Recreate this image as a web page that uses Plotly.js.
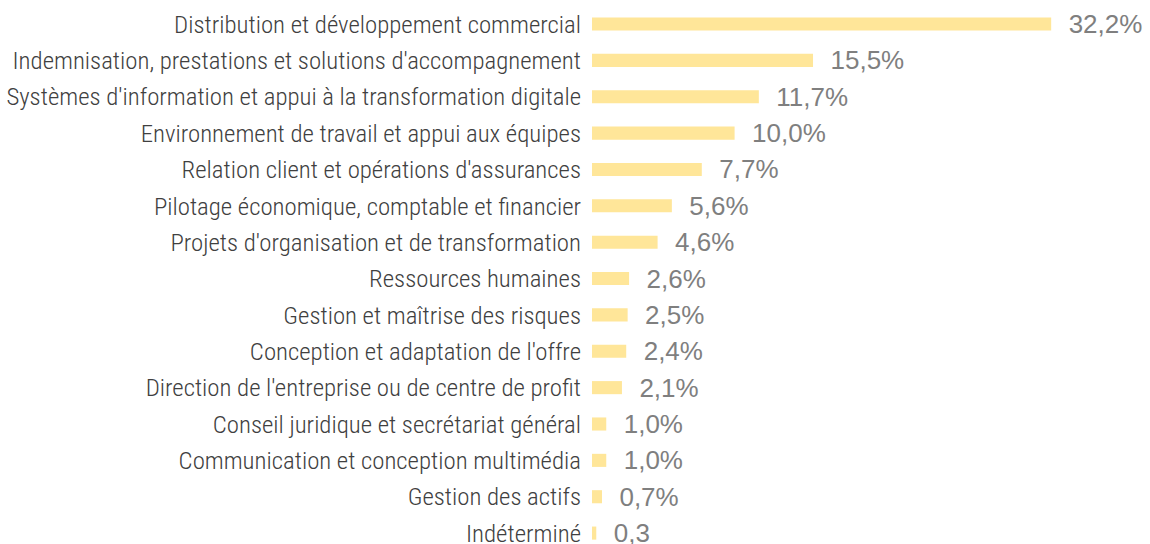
<!DOCTYPE html>
<html><head><meta charset="utf-8">
<script src="https://cdn.plot.ly/plotly-3.0.1.min.js"></script>
<style>html,body{margin:0;padding:0;background:#fff}</style>
</head><body><div id="chart" style="width:1150px;height:544px"></div>
<script>
const categories = [
  "Distribution et développement commercial",
  "Indemnisation, prestations et solutions d'accompagnement",
  "Systèmes d'information et appui à la transformation digitale",
  "Environnement de travail et appui aux équipes",
  "Relation client et opérations d'assurances",
  "Pilotage économique, comptable et financier",
  "Projets d'organisation et de transformation",
  "Ressources humaines",
  "Gestion et maîtrise des risques",
  "Conception et adaptation de l'offre",
  "Direction de l'entreprise ou de centre de profit",
  "Conseil juridique et secrétariat général",
  "Communication et conception multimédia",
  "Gestion des actifs",
  "Indéterminé"
];
const values = [32.2, 15.5, 11.7, 10.0, 7.7, 5.6, 4.6, 2.6, 2.5, 2.4, 2.1, 1.0, 1.0, 0.7, 0.3];
const valueLabels = ["32,2%", "15,5%", "11,7%", "10,0%", "7,7%", "5,6%", "4,6%", "2,6%", "2,5%", "2,4%", "2,1%", "1,0%", "1,0%", "0,7%", "0,3"];

const LABEL_FONT = "'Roboto Condensed', 'Liberation Sans Narrow', sans-serif";
const VALUE_FONT = "'Liberation Sans', Arial, sans-serif";

Plotly.newPlot('chart', [{
  type: 'bar',
  orientation: 'h',
  y: categories,
  x: values,
  text: valueLabels.map(t => '\u00a0\u00a0' + t),
  textposition: 'outside',
  constraintext: 'none',
  cliponaxis: false,
  textfont: {family: VALUE_FONT, size: 26, color: '#7f7f7f'},
  marker: {color: '#FFE699'},
  width: 0.36,
  hoverinfo: 'none'
}], {
  width: 1150, height: 544,
  margin: {l: 592, r: 0, t: 0, b: 0, pad: 0},
  paper_bgcolor: '#ffffff', plot_bgcolor: '#ffffff',
  showlegend: false,
  xaxis: {range: [0, 39.13], visible: false, showgrid: false, zeroline: false},
  yaxis: {
    type: 'category',
    range: [14.3, -0.66],
    showgrid: false, zeroline: false, showline: false,
    ticks: '', ticklen: 0,
    ticklabelstandoff: 10,
    tickfont: {family: LABEL_FONT, size: 24.8, weight: 300, color: '#404040'},
    automargin: false
  },
  font: {family: VALUE_FONT}
}, {displayModeBar: false, staticPlot: true});
</script></body></html>
